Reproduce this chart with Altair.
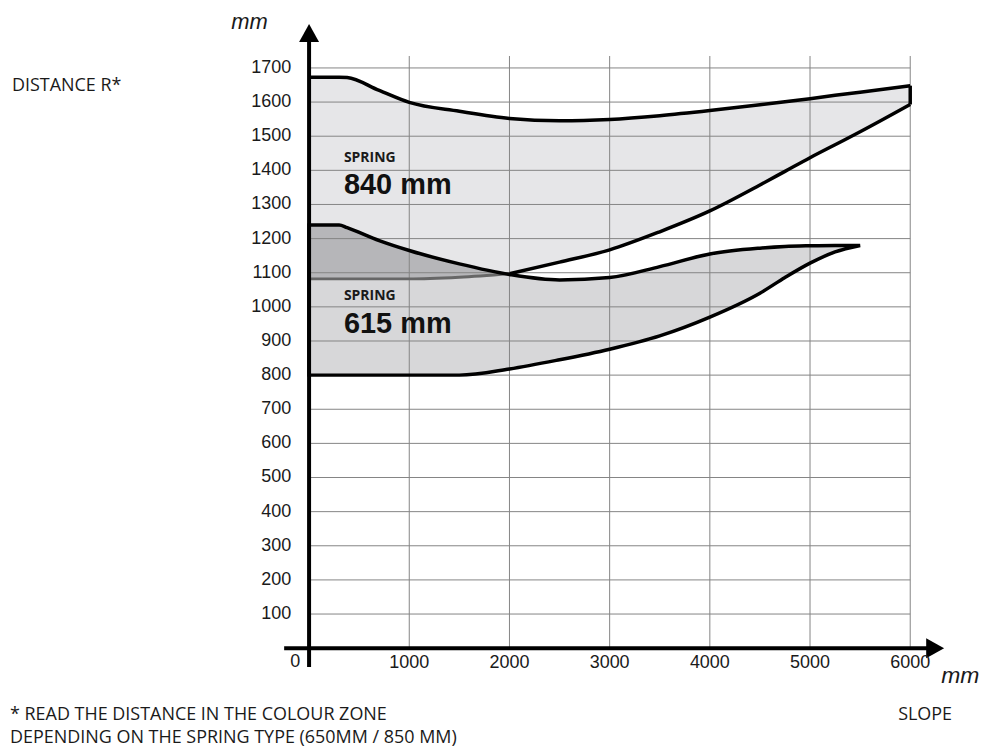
import altair as alt
import pandas as pd

# ---- data (mm) ----
X_MM = [0, 300, 380, 700, 1000, 1500, 2000, 2500, 3000, 3500, 4000, 4500, 4750, 5000, 5250, 5500, 6000]
UP_TOP = [1673, 1673, 1672, 1634, 1599, 1573, 1552, 1545, 1549, 1560, 1575, 1592, 1601, 1610, 1620, 1629, 1648]
UP_BOT = [1082, 1082, 1082, 1082, 1082, 1087, 1097, 1131, 1167, 1220, 1281, 1357, 1397, 1437, 1475, 1513, 1593]
LO_TOP = [1240, 1240, 1232, 1194, 1165, 1126, 1095, 1079, 1086, 1118, 1155, 1172, 1177, 1179, 1180, 1180]
LO_BOT = [800, 800, 800, 800, 800, 800, 818, 845, 876, 915, 970, 1040, 1086, 1128, 1161, 1180]

X_TICKS = [1000, 2000, 3000, 4000, 5000, 6000]
Y_TICKS = [100, 200, 300, 400, 500, 600, 700, 800, 900, 1000, 1100, 1200, 1300, 1400, 1500, 1600, 1700]

ZONE_LABEL_X = [348, 348]
ZONE_SPRING_Y = [1424, 1019]
ZONE_VALUE_Y = [1331, 922]
ZONE_NAMES = ["840 mm", "615 mm"]

W, H = 603, 594
X_DOMAIN = [0, 6000]
Y_DOMAIN = [0, 1735]
INTERP = "monotone"

upper = pd.DataFrame({"x": X_MM, "top": UP_TOP, "bot": UP_BOT})
lower = pd.DataFrame({"x": X_MM[:len(LO_TOP)], "top": LO_TOP, "bot": LO_BOT})
n_ov = sum(1 for v in X_MM if v <= 2000)
overlap = pd.DataFrame({"x": X_MM[:n_ov], "top": LO_TOP[:n_ov], "bot": UP_BOT[:n_ov]})
up_bot_under = upper[upper.x <= 2000]
up_bot_out = upper[upper.x >= 2000]
up_edge = upper.tail(1)

xs = alt.Scale(domain=X_DOMAIN, nice=False, zero=False)
ys = alt.Scale(domain=Y_DOMAIN, nice=False, zero=False)

FONT = "Liberation Sans"
NOTE_FONT = "Open Sans"
TXT = "#1a1a1a"
LINE_W = 3.5

fill_up = alt.Chart(upper).mark_area(color="#e6e6e8", interpolate=INTERP).encode(
    x=alt.X("x:Q", scale=xs, axis=None),
    y=alt.Y("top:Q", scale=ys, axis=None), y2="bot:Q")
fill_lo = alt.Chart(lower).mark_area(color="#d7d7d9", interpolate=INTERP).encode(
    x="x:Q", y="top:Q", y2="bot:Q")
fill_ov = alt.Chart(overlap).mark_area(color="#b6b6b9", interpolate=INTERP).encode(
    x="x:Q", y="top:Q", y2="bot:Q")

xt = pd.DataFrame({"x": X_TICKS, "lab": [str(v) for v in X_TICKS]})
yt = pd.DataFrame({"y": Y_TICKS, "lab": [str(v) for v in Y_TICKS]})

grid_v = alt.Chart(xt).mark_rule(color="#858585", strokeWidth=1).encode(
    x="x:Q", y=alt.value(0), y2=alt.value(H))
grid_h = alt.Chart(yt).mark_rule(color="#858585", strokeWidth=1).encode(
    y="y:Q", x=alt.value(0), x2=alt.value(W))

x_labels = alt.Chart(xt).mark_text(font=FONT, fontSize=18, color=TXT, align="center",
                                   baseline="middle").encode(
    x="x:Q", y=alt.value(H + 15), text="lab:N")
y_labels = alt.Chart(yt).mark_text(font=FONT, fontSize=18, color=TXT, align="right",
                                   baseline="middle").encode(
    y="y:Q", x=alt.value(-18), text="lab:N")

line_up_top = alt.Chart(upper).mark_line(color="black", strokeWidth=LINE_W, interpolate=INTERP).encode(
    x="x:Q", y="top:Q")
line_up_bot = alt.Chart(up_bot_out).mark_line(color="black", strokeWidth=LINE_W, interpolate=INTERP).encode(
    x="x:Q", y="bot:Q")
line_up_grey = alt.Chart(up_bot_under).mark_line(color="#676767", strokeWidth=3, interpolate=INTERP).encode(
    x="x:Q", y="bot:Q")
edge_up = alt.Chart(up_edge).mark_rule(color="black", strokeWidth=LINE_W).encode(
    x="x:Q", y="bot:Q", y2="top:Q")
outline_lo = alt.Chart(lower).mark_area(fillOpacity=0, stroke="black", strokeWidth=LINE_W,
                                        interpolate=INTERP, strokeJoin="miter").encode(
    x="x:Q", y="top:Q", y2="bot:Q")

one = pd.DataFrame({"k": [0]})
axis_y = alt.Chart(one).mark_rule(color="black", strokeWidth=4).encode(
    x=alt.value(0), y=alt.value(-20), y2=alt.value(H + 19))
axis_x = alt.Chart(one).mark_rule(color="black", strokeWidth=4).encode(
    y=alt.value(H), x=alt.value(-25), x2=alt.value(624))
arrow_up = alt.Chart(one).mark_point(shape="M0,-0.9L1,0.9L-1,0.9Z", filled=True, size=400,
                                     color="black", opacity=1).encode(
    x=alt.value(0), y=alt.value(-23))
arrow_right = alt.Chart(one).mark_point(shape="M0.9,0L-0.9,1L-0.9,-1Z", filled=True, size=400,
                                        color="black", opacity=1).encode(
    x=alt.value(628), y=alt.value(H))

zones = pd.DataFrame({"x": ZONE_LABEL_X, "ys": ZONE_SPRING_Y, "yv": ZONE_VALUE_Y,
                      "spring": ["SPRING", "SPRING"], "name": ZONE_NAMES})
spring_txt = alt.Chart(zones).mark_text(font=NOTE_FONT, fontWeight="bold", fontSize=14,
                                        align="left", baseline="alphabetic", color=TXT).encode(
    x="x:Q", y="ys:Q", text="spring:N")
value_txt = alt.Chart(zones).mark_text(font=FONT, fontWeight="bold", fontSize=29,
                                       align="left", baseline="alphabetic", color="#111").encode(
    x="x:Q", y="yv:Q", text="name:N")


def label(txt, x, y, **kw):
    return alt.Chart(pd.DataFrame({"t": [txt]})).mark_text(baseline="alphabetic", **kw).encode(
        x=alt.value(x), y=alt.value(y), text="t:N")


texts = [
    label("0", -14, H + 19, font=FONT, fontSize=18, align="center", color=TXT),
    label("mm", -78, -27, font=FONT, fontSize=22, fontStyle="italic", align="left", color=TXT),
    label("mm", 634, H + 35, font=FONT, fontSize=23, fontStyle="italic", align="left", color=TXT),
    label("DISTANCE R*", -298, 35, font=NOTE_FONT, fontSize=18, align="left", color=TXT),
    label("* READ THE DISTANCE IN THE COLOUR ZONE", -300, 666, font=NOTE_FONT, fontSize=18,
          align="left", color=TXT),
    label("DEPENDING ON THE SPRING TYPE (650MM / 850 MM)", -300, 689, font=NOTE_FONT, fontSize=18,
          align="left", color=TXT),
    label("SLOPE", 645, 666, font=NOTE_FONT, fontSize=18, align="right", color=TXT),
]

chart = alt.layer(
    fill_up, fill_lo, fill_ov, grid_v, grid_h,
    line_up_top, line_up_bot, edge_up, line_up_grey, outline_lo,
    axis_y, axis_x, arrow_up, arrow_right,
    x_labels, y_labels, spring_txt, value_txt, *texts
).properties(
    width=W, height=H,
    autosize=alt.AutoSizeParams(type="none"),
    padding={"left": 302, "top": 47, "right": 72, "bottom": 101},
    background="white",
).configure_view(stroke=None)

chart.save("out.html", embed_options={"renderer": "svg", "actions": False})
